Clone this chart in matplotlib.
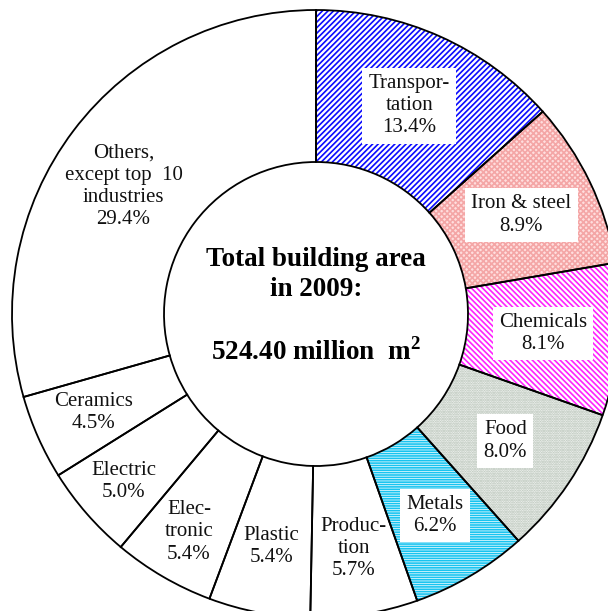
import numpy as np
import matplotlib
matplotlib.use("Agg")
import matplotlib.pyplot as plt

plt.rcParams['font.family'] = ['Liberation Serif', 'DejaVu Serif']
plt.rcParams['mathtext.fontset'] = 'custom'
plt.rcParams['mathtext.rm'] = 'Liberation Serif'
plt.rcParams['mathtext.bf'] = 'Liberation Serif:bold'
plt.rcParams['hatch.linewidth'] = 1.2

# ---- data ----
categories = ["Transportation", "Iron & steel", "Chemicals", "Food", "Metals",
              "Production", "Plastic", "Electronic", "Electric", "Ceramics",
              "Others, except top 10 industries"]
label_texts = ["Transpor-\ntation", "Iron & steel", "Chemicals", "Food", "Metals",
               "Produc-\ntion", "Plastic", "Elec-\ntronic", "Electric", "Ceramics",
               "Others,\nexcept top  10\nindustries"]
shares = [13.4, 8.9, 8.1, 8.0, 6.2, 5.7, 5.4, 5.4, 5.0, 4.5, 29.4]
total_text = ["Total building area", "in 2009:", r"524.40 million  m$^{\mathbf{2}}$"]

# ---- styles ----
face = ['white', '#ffdede', 'white', '#f7f9f7', 'white', 'white', 'white', 'white', 'white', 'white', 'white']
hatch = ['/' * 6, 'x' * 6, '\\' * 6, '.' * 7, '-' * 7, None, None, None, None, None, None]
hcol = ['#0a0aff', '#f4a6a6', '#ff22ff', '#b0bcb0', '#18c4f0', 'white', 'white', 'white', 'white', 'white', 'white']
boxed = [True, True, True, True, True, False, False, False, False, False, False]
label_r = [0.75, 0.75, 0.75, 0.75, 0.77, 0.78, 0.78, 0.83, 0.84, 0.80, 0.76]
label_dang = [0, 0, 0, 0, 0, 0, 0, 0, 0, 0, 3.5]

W, H = 608, 611
fig = plt.figure(figsize=(W / 100, H / 100), dpi=100)
ax = fig.add_axes([0, 0, 1, 1])
cx, cy = 316, H - 314
R, RW = 304, 152

# hatched fills (edge colour = hatch colour, no outline)
wedges, _ = ax.pie(shares, startangle=90, counterclock=False, center=(cx, cy), radius=R,
                   colors=face, wedgeprops=dict(width=RW, linewidth=0))
for w, h, c in zip(wedges, hatch, hcol):
    w.set_edgecolor(c)
    if h:
        w.set_hatch(h)
# black outlines on top
outl, _ = ax.pie(shares, startangle=90, counterclock=False, center=(cx, cy), radius=R,
                 colors=['none'] * len(shares),
                 wedgeprops=dict(width=RW, linewidth=1.3, edgecolor='black', fill=False))

ax.set_xlim(0, W)
ax.set_ylim(0, H)
ax.set_aspect('auto')
ax.axis('off')

# labels
for w, txt, s, b, rf, da in zip(wedges, label_texts, shares, boxed, label_r, label_dang):
    ang = np.deg2rad((w.theta1 + w.theta2) / 2 + da)
    x = cx + R * rf * np.cos(ang)
    y = cy + R * rf * np.sin(ang)
    kw = {}
    if b:
        kw['bbox'] = dict(boxstyle='square,pad=0.3', fc='white', ec='none')
    ax.text(x, y, f"{txt}\n{s:.1f}%", ha='center', va='center', fontsize=15,
            color='#111111', linespacing=1.22, **kw)

# centre text
ax.text(cx, H - 260, total_text[0], ha='center', va='center', fontsize=19.5, fontweight='bold')
ax.text(cx, H - 290, total_text[1], ha='center', va='center', fontsize=19.5, fontweight='bold')
ax.text(cx, H - 352, total_text[2], ha='center', va='center', fontsize=19.5, fontweight='bold')

fig.savefig("out.png", dpi=100)
